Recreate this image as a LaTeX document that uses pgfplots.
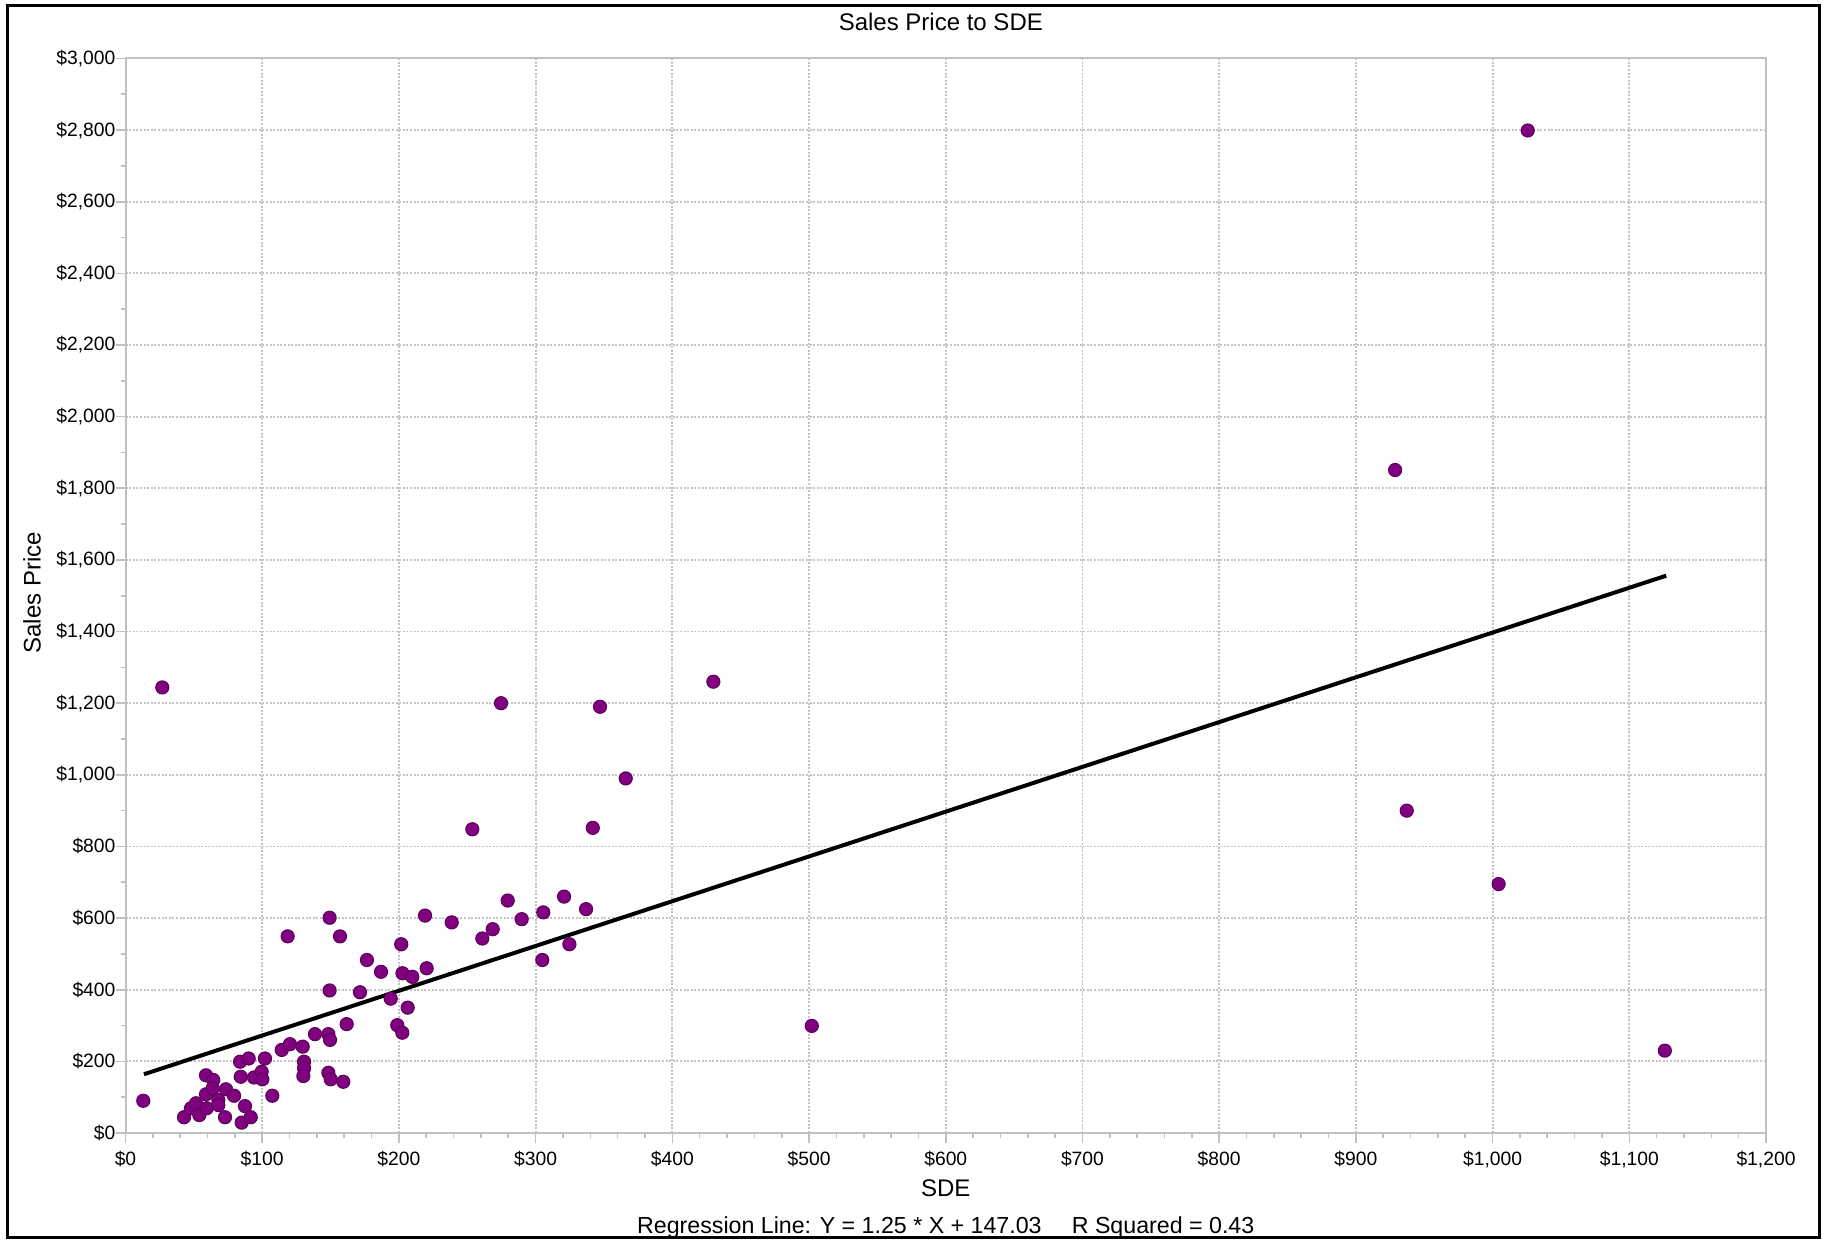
\documentclass[border=0pt]{standalone}
\usepackage{fontspec}
\setmainfont{Liberation Sans}
\usepackage{pgfplots}
\pgfplotsset{compat=1.18}
\definecolor{dotpurple}{HTML}{800080}
\definecolor{dotedge}{HTML}{5C005C}
\definecolor{axgray}{HTML}{C0C0C0}
\definecolor{gridgray}{HTML}{C4C4C4}
\begin{document}
\begin{tikzpicture}
\path[use as bounding box] (0,0) rectangle (911.5pt,620.5pt);
\draw[black, line width=1.5pt] (3.5pt,2pt) rectangle (909.5pt,617.5pt);
\begin{axis}[
  at={(62.75pt,54pt)}, anchor=south west,
  scale only axis, width=820.25pt, height=537.25pt,
  xmin=0, xmax=1200, ymin=0, ymax=3000,
  xtick distance=100, ytick distance=200,
  minor x tick num=4, minor y tick num=1,
  tick align=outside, xtick pos=bottom, ytick pos=left,
  major tick length=5pt, minor tick length=2.5pt,
  tick style={axgray, line width=0.8pt},
  axis line style={axgray, line width=1pt},
  grid=major,
  major grid style={gridgray, line width=0.9pt, dash pattern=on 1pt off 0.8pt},
  xticklabel={\$\pgfmathprintnumber[assume math mode=true,1000 sep={,},fixed,precision=0]{\tick}},
  yticklabel={\$\pgfmathprintnumber[assume math mode=true,1000 sep={,},fixed,precision=0]{\tick}},
  ticklabel style={font=\fontsize{9.65}{11}\selectfont},
  xticklabel shift=0.5pt, yticklabel shift=-3.5pt,
  xlabel={SDE},
  xlabel style={at={(axis description cs:0.5,-0.0512)}, anchor=center, font=\fontsize{12}{14}\selectfont, inner sep=0pt},
  ylabel={Sales Price},
  ylabel style={at={(axis description cs:-0.057,0.5026)}, anchor=center, font=\fontsize{12}{14}\selectfont, inner sep=0pt},
  clip=false,
]
\addplot[only marks, mark=*, mark size=3.3pt, mark options={fill=dotpurple, draw=dotedge, line width=0.5pt}] table {
x y
13.0 90
42.8 44
47.9 69
51.6 83
54.0 50
59.4 69
58.9 108
58.9 161
64.2 148
63.8 125
67.9 92
67.9 78
72.8 44
73.5 122
79.4 104
84.3 157
83.8 199
90.1 208
87.4 75
85.0 29
91.6 44
94.0 155
99.6 171
100.1 150
102.0 208
107.4 104
114.3 232
120.3 248
129.6 241
130.6 199
130.6 181
130.1 159
138.6 276
148.4 276
149.6 260
148.4 168
150.1 150
159.3 143
161.8 304
194.0 375
198.8 301
202.5 280
206.4 350
118.6 549
149.3 601
156.9 549
201.7 527
176.6 483
186.9 450
202.6 446
149.3 398
171.5 393
209.8 436
220.3 460
219.1 607
238.6 588
253.7 848
261.0 543
268.6 569
279.6 649
289.8 597
304.9 483
305.6 616
320.8 660
324.7 527
336.9 625
341.8 852
365.9 990
26.9 1244
274.7 1200
347.1 1190
430.0 1260
502.0 299
928.7 1851
1025.7 2799
937.2 900
1004.4 695
1126.0 230
};
\addplot[black, line width=2pt] coordinates {(13.5,164) (1127,1556)};
\node[font=\fontsize{12}{14}\selectfont, inner sep=0pt] at (axis description cs:0.497,1.034) {Sales Price to SDE};
\node[font=\fontsize{11.6}{14}\selectfont, inner sep=0pt] at (axis description cs:0.5,-0.0875) {Regression Line: Y = 1.25 * X + 147.03\hspace{1.3em}R Squared = 0.43};
\end{axis}
\end{tikzpicture}
\end{document}
